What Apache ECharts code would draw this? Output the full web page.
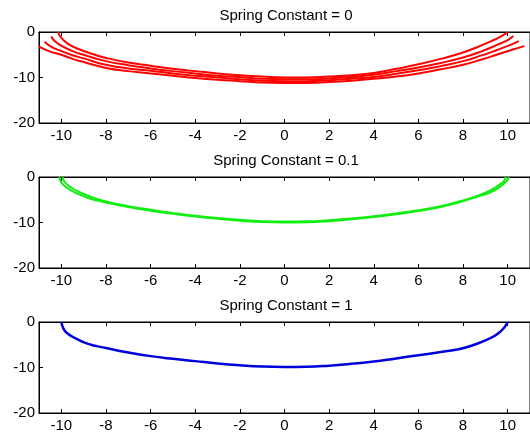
<!DOCTYPE html>
<html>
<head>
<meta charset="utf-8">
<script src="https://cdn.jsdelivr.net/npm/echarts@6/dist/echarts.min.js"></script>
<style>
  html, body { margin: 0; padding: 0; background: #fff; }
  #chart { width: 530px; height: 437px; }
</style>
</head>
<body>
<div id="chart"></div>
<script>
// titles of the three panels
const titles = ["Spring Constant = 0", "Spring Constant = 0.1", "Spring Constant = 1"];
const xTicks = [-10, -8, -6, -4, -2, 0, 2, 4, 6, 8, 10];
const yTicks = [0, -10, -20];

// spring constant = 0 (red, four swings)
const redCurve1 = [[-10.15,0],[-10.0,-1.3],[-9.7,-2.6],[-9.2,-3.8],[-8.5,-5.0],[-8,-5.7],[-7,-6.7],[-6,-7.4],[-5,-8.1],[-4,-8.6],[-3,-9.1],[-2,-9.5],[-1,-9.8],[0,-10.0],[1,-10.0],[2,-9.8],[3,-9.5],[4,-9.0],[5,-8.1],[6,-7.1],[7,-5.9],[8,-4.5],[8.8,-3.0],[9.4,-1.7],[9.8,-0.7],[10.0,0]];
const redCurve2 = [[-10.45,-1.0],[-10.3,-2.0],[-10,-3.0],[-9.5,-4.2],[-9,-5.0],[-8,-6.4],[-7,-7.3],[-6,-8.0],[-5,-8.6],[-4,-9.1],[-3,-9.6],[-2,-9.9],[-1,-10.3],[0,-10.4],[1,-10.4],[2,-10.2],[3,-9.9],[4,-9.4],[5,-8.6],[6,-7.8],[7,-6.8],[8,-5.6],[8.8,-4.3],[9.5,-2.9],[10.0,-1.8],[10.25,-0.9]];
const redCurve3 = [[-10.75,-2.1],[-10.5,-3.1],[-10,-4.2],[-9.5,-5.1],[-9,-5.8],[-8,-7.2],[-7,-8.0],[-6,-8.5],[-5,-9.1],[-4,-9.6],[-3,-10.0],[-2,-10.4],[-1,-10.7],[0,-10.8],[1,-10.8],[2,-10.6],[3,-10.3],[4,-9.9],[5,-9.2],[6,-8.4],[7,-7.5],[8,-6.4],[8.8,-5.2],[9.5,-4.0],[10.1,-2.9],[10.5,-2.0]];
const redCurve4 = [[-11,-3.2],[-10.5,-4.3],[-10,-5.0],[-9.5,-5.9],[-9,-6.6],[-8,-7.9],[-7,-8.6],[-6,-9.1],[-5,-9.6],[-4,-10.1],[-3,-10.5],[-2,-10.8],[-1,-11.1],[0,-11.2],[1,-11.2],[2,-11.0],[3,-10.7],[4,-10.3],[5,-9.8],[6,-9.1],[7,-8.2],[8,-7.2],[8.8,-6.1],[9.5,-5.0],[10.2,-3.9],[10.75,-3.1]];

// spring constant = 0.1 (green, two close swings)
const greenCurve1 = [[-10.1,0],[-10.0,-1.2],[-9.8,-2.2],[-9.4,-3.4],[-8.8,-4.6],[-8,-5.6],[-7,-6.6],[-6,-7.4],[-5,-8.1],[-4,-8.7],[-3,-9.2],[-2,-9.6],[-1,-9.9],[0,-10.0],[1,-9.95],[2,-9.7],[3,-9.3],[4,-8.8],[5,-8.2],[6,-7.5],[7,-6.6],[7.8,-5.6],[8.6,-4.4],[9.25,-3.3],[9.7,-2.0],[9.95,-0.9],[10.05,0]];
const greenCurve2 = [[-9.95,0],[-9.85,-1.1],[-9.6,-2.2],[-9.2,-3.3],[-8.6,-4.5],[-8,-5.4],[-7,-6.4],[-6,-7.2],[-5,-7.9],[-4,-8.5],[-3,-9.0],[-2,-9.4],[-1,-9.7],[0,-9.8],[1,-9.75],[2,-9.5],[3,-9.1],[4,-8.6],[5,-8.0],[6,-7.3],[7,-6.4],[7.8,-5.4],[8.6,-4.2],[9.2,-3.0],[9.6,-1.8],[9.85,-0.8],[9.9,0]];

// spring constant = 1 (blue, single swing)
const blueCurve = [[-10.0,0],[-9.9,-1.5],[-9.75,-2.4],[-9.4,-3.5],[-8.8,-4.8],[-8,-5.7],[-7,-6.7],[-6,-7.5],[-5,-8.1],[-4,-8.6],[-3,-9.1],[-2,-9.5],[-1,-9.8],[0,-9.9],[1,-9.85],[2,-9.6],[3,-9.2],[4,-8.7],[5,-8.0],[6,-7.3],[7,-6.6],[7.8,-6.0],[8.5,-5.0],[9.25,-3.5],[9.6,-2.4],[9.85,-1.2],[10.0,0]];

const font = "Liberation Sans, Arial, sans-serif";
const gridTops = [32, 177, 322];
const titleTops = [8, 153, 298];

let mychart = echarts.init(document.getElementById("chart"));

let grids = [], xAxes = [], yAxes = [], titleList = [];
gridTops.forEach((top, i) => {
  grids.push({
    left: 39, top: top, width: 497, height: 91,
    show: true, borderColor: "#000", borderWidth: 1, backgroundColor: "#fff"
  });
  titleList.push({
    text: titles[i], left: 286, top: titleTops[i], textAlign: "center", padding: 0,
    textStyle: { fontFamily: font, fontSize: 15, fontWeight: "normal", color: "#000" }
  });
  // bottom axis with labels
  xAxes.push({
    type: "value", gridIndex: i, min: -11, max: 11, position: "bottom",
    splitLine: { show: false },
    axisLine: { onZero: false, lineStyle: { color: "#000", width: 1 } },
    axisTick: { inside: true, length: 4, customValues: xTicks, lineStyle: { color: "#000" } },
    axisLabel: { customValues: xTicks, margin: 5, color: "#000", fontFamily: font, fontSize: 15 }
  });
  // top axis, ticks only
  xAxes.push({
    type: "value", gridIndex: i, min: -11, max: 11, position: "top",
    splitLine: { show: false },
    axisLine: { onZero: false, lineStyle: { color: "#000", width: 1 } },
    axisTick: { inside: true, length: 4, customValues: xTicks, lineStyle: { color: "#000" } },
    axisLabel: { show: false }
  });
  yAxes.push({
    type: "value", gridIndex: i, min: -20, max: 0, interval: 10,
    splitLine: { show: false },
    axisLine: { show: true, onZero: false, lineStyle: { color: "#000", width: 1 } },
    axisTick: { show: true, inside: true, length: 4, lineStyle: { color: "#000" } },
    axisLabel: { margin: 4, color: "#000", fontFamily: font, fontSize: 15 }
  });
});

function curve(data, panel, color, width) {
  return {
    type: "line", data: data, xAxisIndex: panel * 2, yAxisIndex: panel,
    showSymbol: false, smooth: 0.5, clip: true,
    lineStyle: { color: color, width: width },
    silent: true, animation: false
  };
}

mychart.setOption({
  backgroundColor: "#fff",
  animation: false,
  title: titleList,
  grid: grids,
  xAxis: xAxes,
  yAxis: yAxes,
  series: [
    curve(redCurve1, 0, "#ff0000", 2),
    curve(redCurve2, 0, "#ff0000", 2),
    curve(redCurve3, 0, "#ff0000", 2),
    curve(redCurve4, 0, "#ff0000", 2),
    curve(greenCurve1, 1, "#11ee11", 2),
    curve(greenCurve2, 1, "#11ee11", 2),
    curve(blueCurve, 2, "#0000dd", 2.5)
  ]
});
window.addEventListener("resize", () => {
  mychart.resize();
});
</script>
</body>
</html>
